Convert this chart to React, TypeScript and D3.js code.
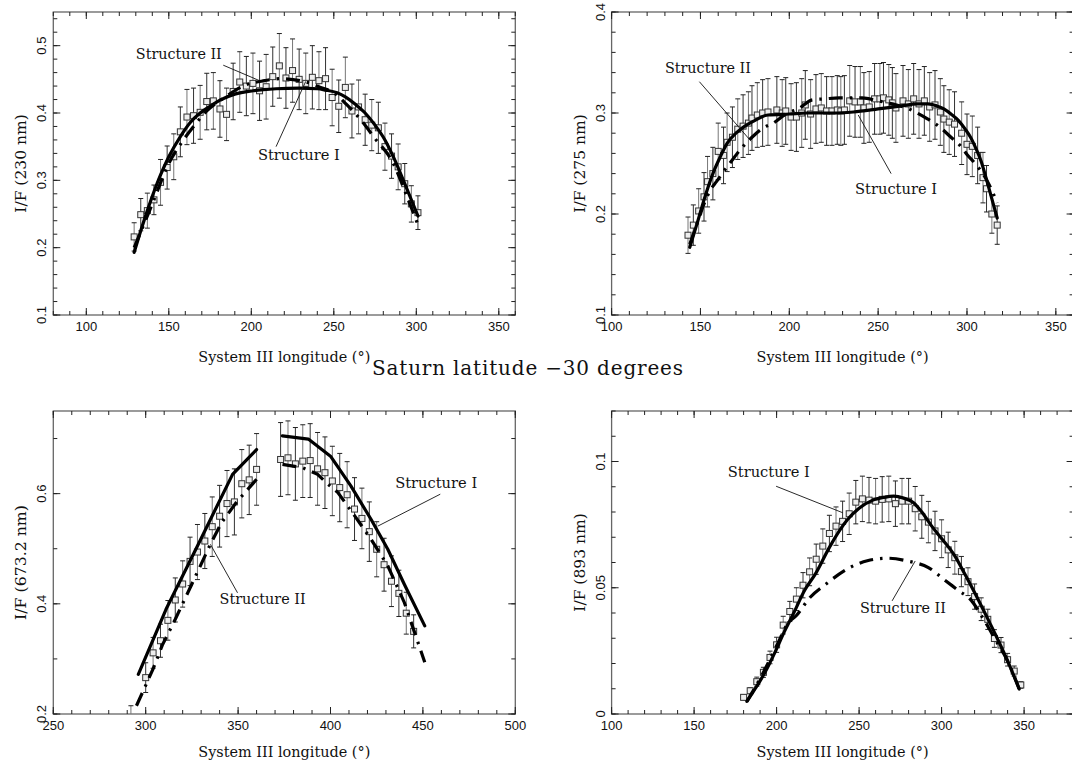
import React, { useRef, useEffect } from 'react';
import * as d3 from 'd3';

// ---- 230 nm ----
const lon230 = [129, 133, 137, 141, 145, 149, 153, 157, 161, 165, 169, 173, 177, 181, 185, 189, 193, 197, 201, 205, 209, 213, 217, 221, 225, 229, 233, 237, 241, 245, 249, 253, 257, 261, 265, 269, 273, 277, 281, 285, 289, 293, 297, 301];
const if230 = [0.216, 0.249, 0.255, 0.271, 0.297, 0.319, 0.335, 0.372, 0.394, 0.396, 0.401, 0.417, 0.418, 0.406, 0.398, 0.432, 0.446, 0.440, 0.444, 0.433, 0.439, 0.454, 0.470, 0.452, 0.463, 0.450, 0.444, 0.453, 0.448, 0.451, 0.423, 0.410, 0.438, 0.403, 0.409, 0.390, 0.382, 0.378, 0.350, 0.336, 0.320, 0.295, 0.265, 0.252];
const err230 = [0.021, 0.024, 0.026, 0.022, 0.034, 0.032, 0.034, 0.037, 0.041, 0.041, 0.04, 0.042, 0.042, 0.042, 0.039, 0.042, 0.045, 0.044, 0.045, 0.044, 0.048, 0.044, 0.048, 0.045, 0.047, 0.045, 0.045, 0.047, 0.043, 0.046, 0.042, 0.039, 0.045, 0.04, 0.04, 0.038, 0.038, 0.038, 0.035, 0.033, 0.034, 0.03, 0.027, 0.025];
const s1Lon230 = [129, 133, 137, 141, 145, 150, 157, 163, 169, 175, 181, 190, 201, 215, 229, 240, 245, 252, 257, 263, 269, 275, 281, 287, 293, 301];
const s1Val230 = [0.193, 0.225, 0.255, 0.283, 0.308, 0.335, 0.365, 0.386, 0.40, 0.41, 0.419, 0.428, 0.433, 0.436, 0.437, 0.436, 0.434, 0.43, 0.424, 0.413, 0.40, 0.382, 0.36, 0.33, 0.295, 0.247];
const s2Lon230 = [129, 140, 150, 158, 165, 173, 185, 195, 208, 218, 233, 242, 250, 258, 267, 275, 285, 295, 301];
const s2Val230 = [0.20, 0.265, 0.325, 0.357, 0.38, 0.403, 0.425, 0.44, 0.448, 0.451, 0.446, 0.438, 0.43, 0.412, 0.388, 0.362, 0.33, 0.272, 0.234];

// ---- 275 nm ----
const lon275 = [143, 146, 149, 152, 154, 157, 160, 163, 165, 168, 171, 174, 177, 179, 182, 185, 188, 193, 196, 198, 201, 204, 207, 209, 212, 215, 218, 221, 224, 227, 229, 231, 234, 237, 240, 242, 245, 248, 251, 253, 256, 258, 260, 264, 267, 270, 273, 276, 279, 282, 285, 287, 290, 293, 297, 300, 303, 306, 309, 311, 314, 317];
const if275 = [0.179, 0.189, 0.203, 0.217, 0.232, 0.240, 0.262, 0.258, 0.271, 0.276, 0.284, 0.287, 0.290, 0.295, 0.298, 0.300, 0.301, 0.303, 0.300, 0.302, 0.296, 0.296, 0.300, 0.308, 0.299, 0.304, 0.305, 0.302, 0.302, 0.303, 0.302, 0.303, 0.312, 0.311, 0.311, 0.305, 0.306, 0.314, 0.314, 0.315, 0.313, 0.310, 0.305, 0.312, 0.309, 0.314, 0.309, 0.312, 0.306, 0.308, 0.301, 0.294, 0.291, 0.289, 0.280, 0.269, 0.267, 0.258, 0.236, 0.225, 0.200, 0.189];
const err275 = [0.018, 0.02, 0.022, 0.024, 0.025, 0.026, 0.028, 0.028, 0.029, 0.03, 0.03, 0.031, 0.031, 0.032, 0.032, 0.033, 0.033, 0.033, 0.033, 0.033, 0.033, 0.034, 0.034, 0.034, 0.034, 0.034, 0.034, 0.034, 0.034, 0.034, 0.034, 0.034, 0.035, 0.035, 0.035, 0.035, 0.035, 0.035, 0.035, 0.035, 0.035, 0.035, 0.034, 0.035, 0.034, 0.035, 0.034, 0.034, 0.034, 0.034, 0.033, 0.033, 0.032, 0.032, 0.031, 0.03, 0.03, 0.028, 0.025, 0.023, 0.019, 0.019];
const s1Lon275 = [144, 148, 152, 157, 161, 165, 170, 175, 180, 188, 200, 210, 225, 236, 250, 263, 272, 278, 283, 287, 291, 295, 299, 302, 305, 308, 311, 314, 317];
const s1Val275 = [0.167, 0.19, 0.214, 0.240, 0.256, 0.27, 0.28, 0.287, 0.292, 0.298, 0.299, 0.300, 0.300, 0.301, 0.304, 0.307, 0.309, 0.309, 0.307, 0.304, 0.299, 0.293, 0.284, 0.276, 0.265, 0.252, 0.234, 0.215, 0.196];
const s2Lon275 = [144, 148, 152, 156, 159, 163, 169, 173, 179, 185, 191, 199, 205, 213, 220, 228, 234, 241, 250, 258, 266, 272, 278, 284, 291, 296, 300, 306, 311, 317];
const s2Val275 = [0.170, 0.19, 0.21, 0.225, 0.232, 0.242, 0.256, 0.265, 0.276, 0.285, 0.29, 0.30, 0.304, 0.313, 0.314, 0.315, 0.315, 0.315, 0.312, 0.309, 0.305, 0.30, 0.294, 0.287, 0.276, 0.268, 0.259, 0.247, 0.234, 0.211];

// ---- 673.2 nm ----
const lon673 = [292, 300, 304, 308, 312, 316, 320, 324, 328, 332, 336, 340, 344, 348, 352, 356, 360, 373, 377, 381, 385, 389, 393, 397, 401, 405, 409, 413, 417, 421, 425, 429, 433, 437, 441, 445];
const if673 = [0.19, 0.266, 0.311, 0.333, 0.370, 0.407, 0.436, 0.477, 0.494, 0.514, 0.540, 0.559, 0.582, 0.585, 0.618, 0.625, 0.644, 0.662, 0.665, 0.654, 0.659, 0.660, 0.645, 0.638, 0.623, 0.611, 0.598, 0.572, 0.555, 0.531, 0.499, 0.471, 0.441, 0.419, 0.383, 0.350];
const err673 = [0.025, 0.027, 0.028, 0.03, 0.036, 0.04, 0.042, 0.044, 0.05, 0.05, 0.054, 0.056, 0.06, 0.06, 0.062, 0.063, 0.065, 0.067, 0.067, 0.066, 0.066, 0.067, 0.066, 0.065, 0.063, 0.062, 0.06, 0.057, 0.055, 0.054, 0.05, 0.048, 0.046, 0.042, 0.038, 0.03];
const s1Lon673 = [296, 311, 328, 347, 360, 367, 374, 388, 400, 411, 422, 431, 440, 451];
const s1Val673 = [0.272, 0.39, 0.505, 0.635, 0.68, null, 0.705, 0.699, 0.668, 0.614, 0.553, 0.499, 0.435, 0.36];
const s2Lon673 = [295, 300, 304, 309, 316, 325, 335, 341, 349, 360, 367, 374, 385, 393, 398, 404, 413, 422, 431, 440, 451];
const s2Val673 = [0.215, 0.252, 0.282, 0.325, 0.372, 0.436, 0.508, 0.547, 0.584, 0.626, null, 0.653, 0.647, 0.635, 0.619, 0.602, 0.56, 0.517, 0.469, 0.402, 0.294];

// ---- 893 nm ----
const lon893 = [180, 184, 188, 192, 196, 200, 204, 208, 212, 216, 220, 224, 228, 232, 236, 240, 244, 248, 252, 256, 260, 264, 268, 272, 276, 280, 284, 288, 292, 296, 300, 304, 308, 312, 316, 320, 324, 328, 332, 336, 340, 344, 348];
const if893 = [0.0066, 0.0092, 0.0128, 0.0165, 0.0224, 0.0274, 0.0352, 0.0406, 0.0455, 0.051, 0.0563, 0.0613, 0.0665, 0.0715, 0.0744, 0.0763, 0.0793, 0.0839, 0.0852, 0.0847, 0.0843, 0.085, 0.0852, 0.0833, 0.0843, 0.0843, 0.0813, 0.0781, 0.076, 0.0725, 0.0694, 0.065, 0.0619, 0.0564, 0.0524, 0.0465, 0.0415, 0.0375, 0.0299, 0.0273, 0.0215, 0.017, 0.0115];
const err893 = [0.001, 0.0012, 0.0018, 0.002, 0.0025, 0.003, 0.0035, 0.004, 0.0045, 0.005, 0.0055, 0.006, 0.0068, 0.0072, 0.0076, 0.008, 0.0082, 0.0086, 0.009, 0.009, 0.009, 0.009, 0.009, 0.009, 0.009, 0.009, 0.0088, 0.0085, 0.0082, 0.0078, 0.0075, 0.007, 0.0065, 0.006, 0.0055, 0.005, 0.0045, 0.004, 0.0035, 0.003, 0.0025, 0.002, 0.0013];
const s1Lon893 = [182, 187, 193, 199, 205, 210, 217, 224, 232, 243, 250, 258, 265, 271, 277, 283, 288, 294, 300, 308, 314, 321, 327, 333, 340, 347];
const s1Val893 = [0.005, 0.01, 0.0165, 0.0244, 0.033, 0.0395, 0.049, 0.056, 0.066, 0.077, 0.0815, 0.0846, 0.0858, 0.0863, 0.0855, 0.0837, 0.08, 0.0744, 0.0695, 0.0626, 0.0555, 0.0468, 0.039, 0.031, 0.021, 0.0099];
const s2Lon893 = [182, 190, 200, 207, 212, 220, 230, 243, 255, 267, 280, 292, 302, 310, 318, 325, 333, 340, 347];
const s2Val893 = [0.005, 0.014, 0.027, 0.036, 0.039, 0.046, 0.0515, 0.0575, 0.0607, 0.0617, 0.0605, 0.058, 0.053, 0.049, 0.045, 0.038, 0.029, 0.021, 0.010];

// ---- ticks ----
const xTicksA = [100, 150, 200, 250, 300, 350];
const xTicksB = [250, 300, 350, 400, 450, 500];
const yTicks230 = [0.1, 0.2, 0.3, 0.4, 0.5];
const yTicks275 = [0.1, 0.2, 0.3, 0.4];
const yTicks673 = [0.2, 0.4, 0.6];
const yTicks893 = [0, 0.05, 0.1];
const yLabels893 = ['0', '0.05', '0.1'];

type Note = { text: string; lon: number; val: number; from: [number, number]; to: [number, number] };

const notes230: Note[] = [
  { text: 'Structure II', lon: 130, val: 0.48, from: [183, 0.471], to: [205, 0.448] },
  { text: 'Structure I', lon: 204, val: 0.33, from: [215, 0.35], to: [233, 0.447] },
];
const notes275: Note[] = [
  { text: 'Structure II', lon: 130, val: 0.34, from: [149.4, 0.331], to: [178.5, 0.272] },
  { text: 'Structure I', lon: 237, val: 0.22, from: [257.3, 0.24], to: [238.8, 0.298] },
];
const notes673: Note[] = [
  { text: 'Structure I', lon: 435, val: 0.61, from: [459.4, 0.599], to: [425.6, 0.541] },
  { text: 'Structure II', lon: 340, val: 0.40, from: [349.7, 0.42], to: [335, 0.508] },
];
const notes893: Note[] = [
  { text: 'Structure I', lon: 170.4, val: 0.0938, from: [199.7, 0.0902], to: [240.1, 0.0797] },
  { text: 'Structure II', lon: 250.5, val: 0.040, from: [270, 0.0448], to: [284, 0.0606] },
];

const SERIF = '"DejaVu Serif", "Liberation Serif", serif';
const SANS = '"Liberation Sans", Arial, sans-serif';

export default function App() {
  const ref = useRef<SVGSVGElement | null>(null);

  useEffect(() => {
    if (!ref.current) return;
    const svg = d3.select(ref.current);
    svg.selectAll('*').remove();

    const panels = [
      { left: 53.3, top: 12, w: 462, h: 303, xd: [80, 360], yd: [0.1, 0.55], xt: xTicksA, yt: yTicks230, yl: yTicks230.map(String), xm: 10, ym: 0.02, title: 'I/F (230 nm)', lon: lon230, val: if230, err: err230, s1: [s1Lon230, s1Val230], s2: [s2Lon230, s2Val230], notes: notes230, curve: d3.curveMonotoneX, titleGap: 47 },
      { left: 611.6, top: 12, w: 462, h: 303, xd: [100, 360], yd: [0.1, 0.4], xt: xTicksA, yt: yTicks275, yl: yTicks275.map(String), xm: 10, ym: 0.02, title: 'I/F (275 nm)', lon: lon275, val: if275, err: err275, s1: [s1Lon275, s1Val275], s2: [s2Lon275, s2Val275], notes: notes275, curve: d3.curveMonotoneX, titleGap: 47 },
      { left: 53.3, top: 411, w: 462, h: 303, xd: [250, 500], yd: [0.2, 0.75], xt: xTicksB, yt: yTicks673, yl: yTicks673.map(String), xm: 10, ym: 0.1, title: 'I/F (673.2 nm)', lon: lon673, val: if673, err: err673, s1: [s1Lon673, s1Val673], s2: [s2Lon673, s2Val673], notes: notes673, curve: d3.curveLinear, titleGap: 43 },
      { left: 611.6, top: 411, w: 462, h: 303, xd: [100, 380], yd: [0, 0.12], xt: xTicksA, yt: yTicks893, yl: yLabels893, xm: 10, ym: 0.01, title: 'I/F (893 nm)', lon: lon893, val: if893, err: err893, s1: [s1Lon893, s1Val893], s2: [s2Lon893, s2Val893], notes: notes893, curve: d3.curveMonotoneX, titleGap: 43 },
    ];

    panels.forEach((p, i) => {
      const x = d3.scaleLinear().domain(p.xd).range([p.left, p.left + p.w]);
      const y = d3.scaleLinear().domain(p.yd).range([p.top + p.h, p.top]);
      const x0 = p.left, x1 = p.left + p.w, y0 = p.top + p.h, y1 = p.top;
      const g = svg.append('g');

      const clipId = `clip-${i}`;
      g.append('clipPath').attr('id', clipId).append('rect')
        .attr('x', x0).attr('y', y1).attr('width', p.w).attr('height', p.h);

      // frame
      g.append('rect').attr('x', x0).attr('y', y1).attr('width', p.w).attr('height', p.h)
        .attr('fill', 'none').attr('stroke', '#666').attr('stroke-width', 1.3);

      // minor + major ticks, all four sides, pointing in
      const xMinor = d3.range(Math.ceil(p.xd[0] / p.xm), Math.floor(p.xd[1] / p.xm) + 1).map(k => k * p.xm);
      const yMinor = d3.range(Math.ceil(p.yd[0] / p.ym - 1e-6), Math.floor(p.yd[1] / p.ym + 1e-6) + 1).map(k => k * p.ym);
      const tk = g.append('g').attr('stroke', '#222').attr('stroke-width', 1);
      const xTickAll = [...xMinor.map(v => ({ v, len: 4 })), ...p.xt.map(v => ({ v, len: 7 }))];
      const yTickAll = [...yMinor.map(v => ({ v, len: 4 })), ...p.yt.map(v => ({ v, len: 7 }))];
      xTickAll.forEach(t => {
        tk.append('line').attr('x1', x(t.v)).attr('x2', x(t.v)).attr('y1', y0).attr('y2', y0 - t.len);
        tk.append('line').attr('x1', x(t.v)).attr('x2', x(t.v)).attr('y1', y1).attr('y2', y1 + t.len);
      });
      yTickAll.forEach(t => {
        tk.append('line').attr('y1', y(t.v)).attr('y2', y(t.v)).attr('x1', x0).attr('x2', x0 + t.len);
        tk.append('line').attr('y1', y(t.v)).attr('y2', y(t.v)).attr('x1', x1).attr('x2', x1 - t.len);
      });

      // tick labels
      p.xt.forEach(v => {
        g.append('text').attr('x', x(v)).attr('y', y0 + 16).attr('text-anchor', 'middle')
          .attr('font-family', SANS).attr('font-size', 13).attr('fill', '#111').text(String(v));
      });
      p.yt.forEach((v, k) => {
        g.append('text').attr('transform', `translate(${x0 - 7},${y(v)}) rotate(-90)`)
          .attr('text-anchor', 'middle').attr('font-family', SANS).attr('font-size', 13)
          .attr('fill', '#111').text(p.yl[k]);
      });

      // axis titles
      g.append('text').attr('x', (x0 + x1) / 2).attr('y', y0 + p.titleGap).attr('text-anchor', 'middle')
        .attr('font-family', SERIF).attr('font-size', 15).attr('fill', '#111')
        .attr('textLength', 172).attr('lengthAdjust', 'spacingAndGlyphs')
        .text('System III longitude (°)');
      g.append('text').attr('transform', `translate(${x0 - 27},${(y0 + y1) / 2}) rotate(-90)`)
        .attr('text-anchor', 'middle').attr('font-family', SERIF).attr('font-size', 15.5)
        .attr('textLength', p.title.length * 8.2).attr('lengthAdjust', 'spacingAndGlyphs')
        .attr('fill', '#111').text(p.title);

      const inner = g.append('g').attr('clip-path', `url(#${clipId})`);

      // error bars and squares
      p.lon.forEach((lo, k) => {
        const cx = x(lo);
        const v = p.val[k], e = p.err[k];
        inner.append('line').attr('x1', cx).attr('x2', cx).attr('y1', y(v - e)).attr('y2', y(v + e))
          .attr('stroke', k % 2 ? '#333' : '#777').attr('stroke-width', 1);
        [v - e, v + e].forEach(c => {
          inner.append('line').attr('x1', cx - 2.5).attr('x2', cx + 2.5).attr('y1', y(c)).attr('y2', y(c))
            .attr('stroke', '#222').attr('stroke-width', 1);
        });
        inner.append('rect').attr('x', cx - 3).attr('y', y(v) - 3).attr('width', 6).attr('height', 6)
          .attr('fill', '#eee').attr('stroke', '#333').attr('stroke-width', 1);
      });

      // model curves
      const line = d3.line<[number, number | null]>()
        .defined(d => d[1] != null)
        .x(d => x(d[0]))
        .y(d => y(d[1] as number))
        .curve(p.curve);
      const s1 = (p.s1[0] as number[]).map((lo, k) => [lo, (p.s1[1] as (number | null)[])[k]] as [number, number | null]);
      const s2 = (p.s2[0] as number[]).map((lo, k) => [lo, (p.s2[1] as (number | null)[])[k]] as [number, number | null]);
      inner.append('path').attr('d', line(s2) || '').attr('fill', 'none').attr('stroke', '#000')
        .attr('stroke-width', 3.2).attr('stroke-dasharray', '14,7,2.5,7');
      inner.append('path').attr('d', line(s1) || '').attr('fill', 'none').attr('stroke', '#000')
        .attr('stroke-width', 3.2).attr('stroke-linejoin', 'round').attr('stroke-linecap', 'round');

      // annotations
      p.notes.forEach(n => {
        g.append('line').attr('x1', x(n.from[0])).attr('y1', y(n.from[1]))
          .attr('x2', x(n.to[0])).attr('y2', y(n.to[1])).attr('stroke', '#111').attr('stroke-width', 0.9);
        g.append('text').attr('x', x(n.lon)).attr('y', y(n.val)).attr('font-family', SERIF)
          .attr('font-size', 14).attr('fill', '#111')
          .attr('textLength', n.text === 'Structure II' ? 86 : 82).attr('lengthAdjust', 'spacingAndGlyphs')
          .text(n.text);
      });
    });

    svg.append('text').attr('x', 527.5).attr('y', 375).attr('text-anchor', 'middle')
      .attr('font-family', SERIF).attr('font-size', 20)
      .attr('textLength', 311).attr('lengthAdjust', 'spacing')
      .attr('fill', '#111').text('Saturn latitude \u221230 degrees');
  }, []);

  return (
    <svg
      ref={ref}
      width={1072}
      height={769}
      style={{ position: 'absolute', left: 0, top: 0, background: '#fff' }}
    />
  );
}
